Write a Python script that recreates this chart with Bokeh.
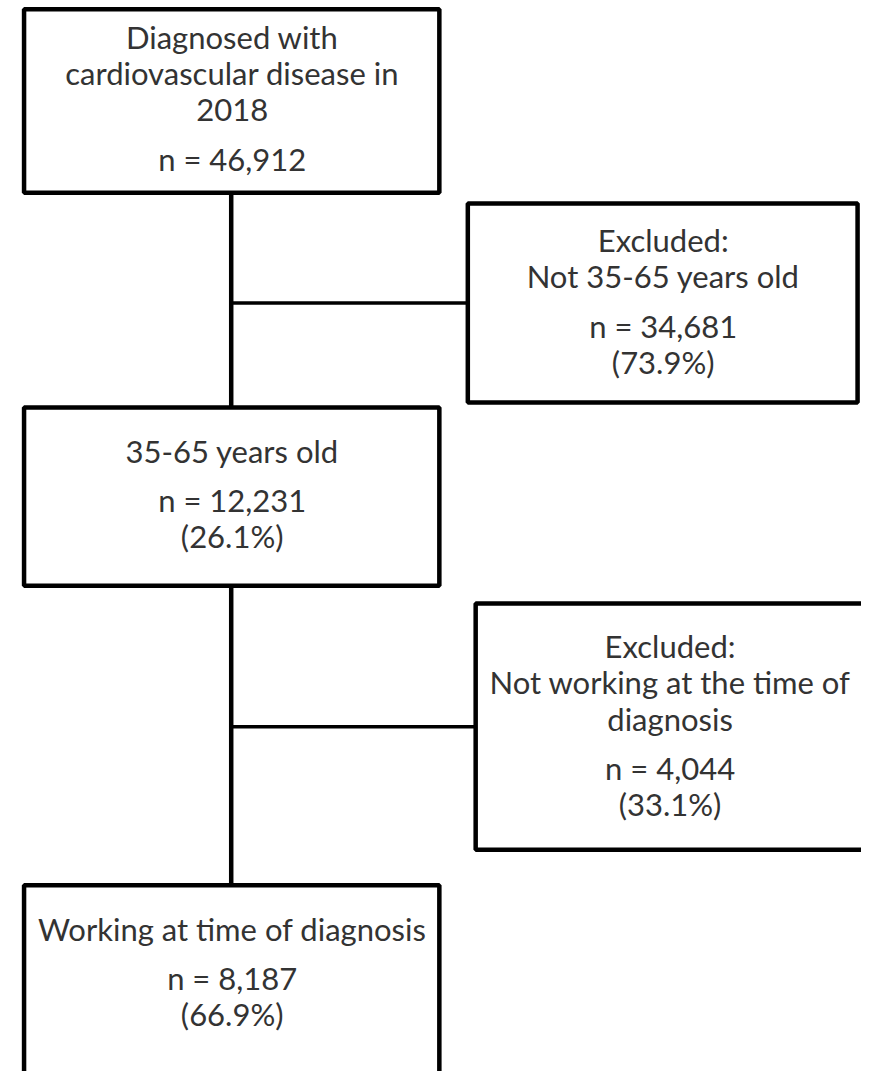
from bokeh.plotting import figure
from bokeh.models import Range1d, ColumnDataSource
from bokeh.core.properties import value
from bokeh.embed import file_html
from bokeh.resources import INLINE

# ---- data ----
labels = [
    ["Diagnosed with", "cardiovascular disease in", "2018"],
    ["Excluded:", "Not 35-65 years old"],
    ["35-65 years old"],
    ["Excluded:", "Not working at the time of", "diagnosis"],
    ["Working at time of diagnosis"],
]
counts = [46912, 34681, 12231, 4044, 8187]
percents = [None, 73.9, 26.1, 33.1, 66.9]

# ---- layout (pixel space of the reference image) ----
box_left = [24, 476, 24, 484, 24]
box_right = [447, 873, 447, 895, 447]
box_top = [9, 206, 413, 612, 898]
box_bottom = [195, 408, 594, 862, 1110]
text_cx = [236, 675, 236, 682, 236]
first_line_y = [37, 243, 457, 655, 942]
LINE = 37
GAP = 50

W, H = 861, 1071
p = figure(width=W, height=H, output_backend="svg", toolbar_location=None,
           x_range=Range1d(0, 877), y_range=Range1d(1087, 0),
           min_border=0)
p.axis.visible = False
p.grid.visible = False
p.outline_line_color = None
p.background_fill_color = "white"
p.border_fill_color = "white"

# connectors
p.multi_line(xs=[[235, 235], [235, 235]], ys=[[195, 413], [594, 898]],
             line_color="black", line_width=4.5)
p.multi_line(xs=[[235, 476], [235, 484]], ys=[[307, 307], [737, 737]],
             line_color="black", line_width=3.5)

# boxes
p.quad(left=box_left, right=box_right, top=box_top, bottom=box_bottom,
       fill_color="white", line_color="black", line_width=4.5)

tx, ty, tt = [], [], []
for i, lines in enumerate(labels):
    y = first_line_y[i]
    for j, ln in enumerate(lines):
        tx.append(text_cx[i]); ty.append(y + j * LINE); tt.append(ln)
    y = y + (len(lines) - 1) * LINE + GAP
    tx.append(text_cx[i]); ty.append(y); tt.append(f"n = {counts[i]:,}")
    if percents[i] is not None:
        tx.append(text_cx[i]); ty.append(y + LINE); tt.append(f"({percents[i]:.1f}%)")

src = ColumnDataSource(dict(x=tx, y=ty, t=tt))
p.text(x="x", y="y", text="t", source=src, text_align="center",
       text_baseline="middle", text_font=value("Lato"),
       text_font_size="31px", text_color="#333333")

open("out.html", "w").write(file_html(p, INLINE))
